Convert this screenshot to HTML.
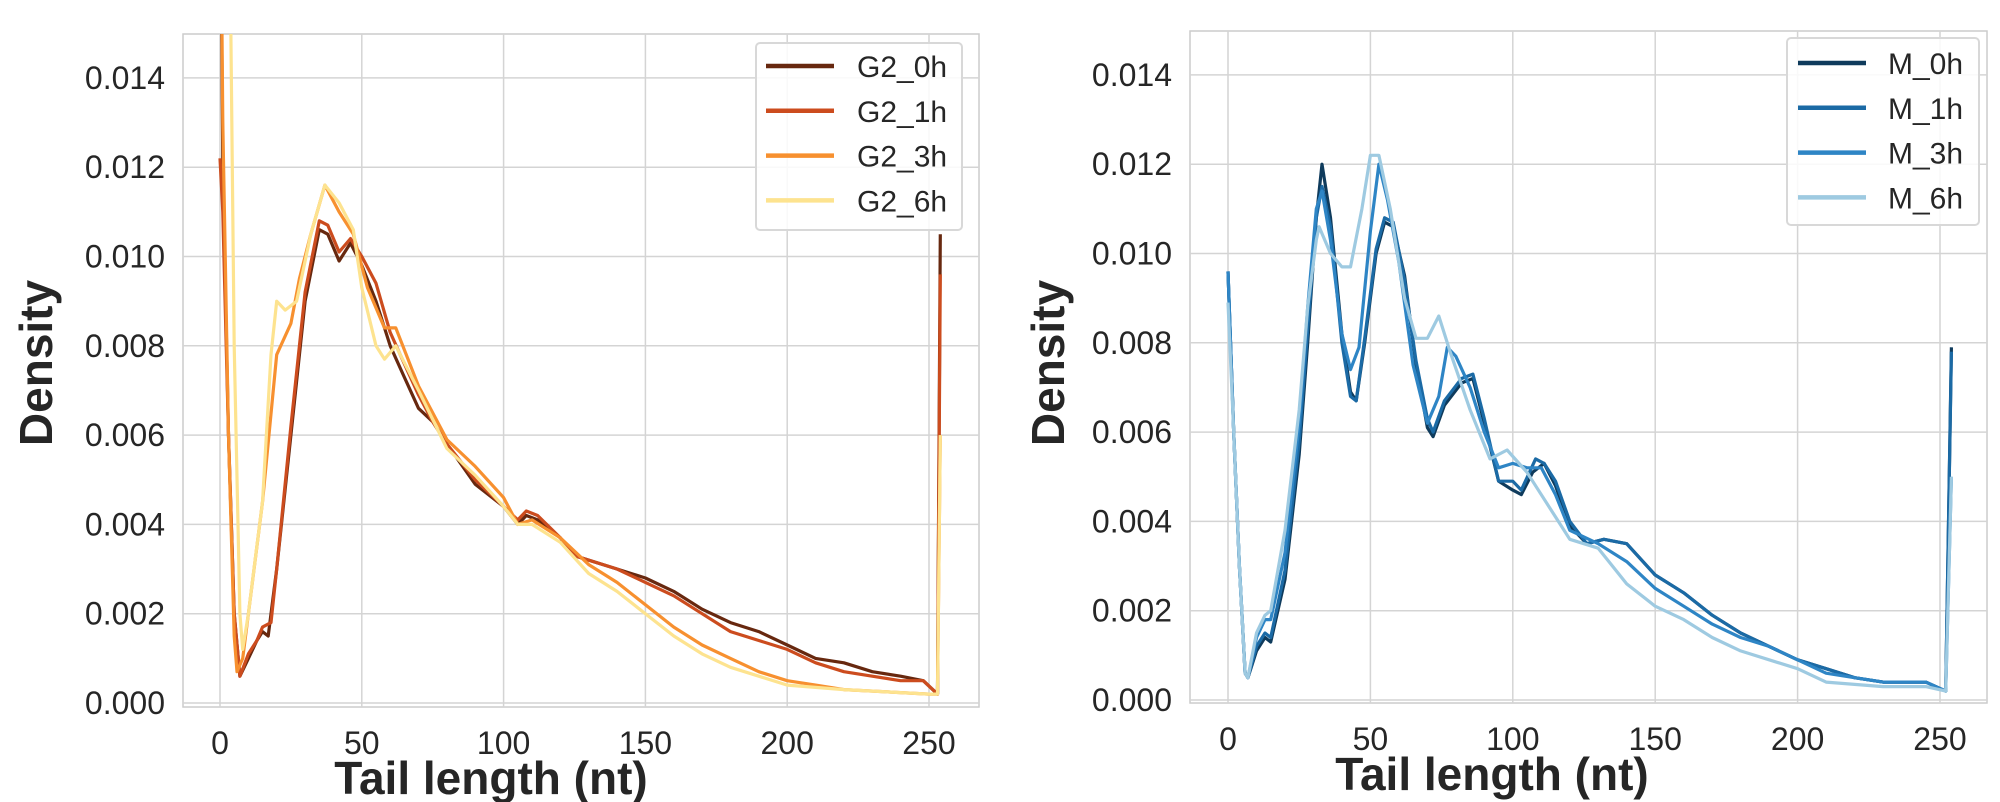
<!DOCTYPE html>
<html><head><meta charset="utf-8"><style>
html,body{margin:0;padding:0;background:#fff;width:2000px;height:802px;overflow:hidden}
svg text{font-family:"Liberation Sans",Arial,sans-serif;fill:#262626}
</style></head><body>
<svg id="s" width="2000" height="802" xmlns="http://www.w3.org/2000/svg">
<defs>
<clipPath id="c1"><rect x="183" y="34" width="796" height="673"/></clipPath>
<clipPath id="c2"><rect x="1190" y="31" width="797" height="672"/></clipPath>
</defs>
</svg>
<script>
const S=document.getElementById('s');
const NS='http://www.w3.org/2000/svg';
function el(t,a,txt){const e=document.createElementNS(NS,t);for(const k in a)e.setAttribute(k,a[k]);if(txt!==undefined)e.textContent=txt;S.appendChild(e);return e;}
function panel(P){
  const X=v=>P.x0+v*P.sx, Y=v=>P.y0-v/0.002*89.3;
  el('rect',{x:P.l,y:P.t,width:P.r-P.l,height:P.b-P.t,fill:'#fff',stroke:'#cccccc','stroke-width':1.5});
  for(let i=0;i<=250;i+=50){el('line',{x1:X(i),x2:X(i),y1:P.t,y2:P.b,stroke:'#d4d4d4','stroke-width':1.5});
    el('text',{x:X(i),y:P.b+47,'font-size':32,'text-anchor':'middle'},String(i));}
  for(let i=0;i<=7;i++){const v=i*0.002;el('line',{x1:P.l,x2:P.r,y1:Y(v),y2:Y(v),stroke:'#d4d4d4','stroke-width':1.5});
    el('text',{x:P.l-18,y:Y(v)+11,'font-size':32,'text-anchor':'end'},v.toFixed(3));}
  el('text',{x:P.dx,y:P.dy,'font-size':46,'font-weight':'bold','text-anchor':'middle',transform:`rotate(-90 ${P.dx} ${P.dy})`},'Density');
  el('text',{x:P.tx,y:P.ty,'font-size':46,'font-weight':'bold','text-anchor':'middle'},'Tail length (nt)');
  const g=document.createElementNS(NS,'g');g.setAttribute('clip-path',P.clip);S.appendChild(g);
  P.series.forEach(s=>{const p=document.createElementNS(NS,'polyline');
    const pts=[];for(let i=0;i<s.d.length;i+=2)pts.push(X(s.d[i]).toFixed(1)+','+Y(s.d[i+1]).toFixed(1));
    p.setAttribute('points',pts.join(' '));p.setAttribute('fill','none');p.setAttribute('stroke',s.c);p.setAttribute('stroke-width',3.2);p.setAttribute('stroke-linejoin','round');g.appendChild(p);});
  const L=P.leg;el('rect',{x:L.x,y:L.y,width:L.w,height:L.h,fill:'#fff','fill-opacity':0.85,stroke:'#d8d8d8','stroke-width':2,rx:4});
  P.series.forEach((s,i)=>{const y=L.ly+i*44.8;el('line',{x1:L.lx,x2:L.lx+68,y1:y,y2:y,stroke:s.c,'stroke-width':4.5});
    el('text',{x:L.tx,y:y+11,'font-size':30},s.n);});
}
panel({l:183,r:979,t:34,b:707,x0:220,sx:2.836,y0:703,dx:52,dy:363,tx:491,ty:794,clip:'url(#c1)',
 leg:{x:756,y:43,w:206,h:187,lx:766,ly:66,tx:857},
 series:[
 {n:'G2_0h',c:'#67280f',d:[0,0.02,1,0.012,3,0.006,5,0.002,7,0.0006,10,0.001,13,0.0014,15,0.0016,17,0.0015,20,0.003,25,0.006,30,0.009,35,0.0106,38,0.0105,42,0.0099,46,0.0103,50,0.0098,55,0.009,60,0.008,65,0.0073,70,0.0066,75,0.0063,80,0.0058,90,0.0049,100,0.0044,105,0.004,108,0.0042,112,0.0041,120,0.0037,125,0.0033,140,0.003,150,0.0028,160,0.0025,170,0.0021,180,0.0018,190,0.0016,200,0.0013,210,0.001,220,0.0009,230,0.0007,240,0.0006,248,0.0005,253,0.0002,254,0.0105]},
 {n:'G2_1h',c:'#cc4c1e',d:[0,0.0122,1,0.011,3,0.006,5,0.002,7,0.0006,10,0.0011,13,0.0014,15,0.0017,18,0.0018,20,0.003,25,0.0062,30,0.0092,35,0.0108,38,0.0107,42,0.0101,46,0.0104,50,0.01,55,0.0094,60,0.0083,65,0.0076,70,0.0069,75,0.0063,80,0.0058,90,0.005,100,0.0044,105,0.0041,108,0.0043,112,0.0042,120,0.0037,125,0.0033,140,0.003,150,0.0027,160,0.0024,170,0.002,180,0.0016,190,0.0014,200,0.0012,210,0.0009,220,0.0007,230,0.0006,240,0.0005,248,0.0005,253,0.0002,254,0.0096]},
 {n:'G2_3h',c:'#f7902f',d:[0,0.02,1,0.013,3,0.006,5,0.0015,6,0.0007,8,0.001,10,0.002,15,0.0045,20,0.0078,25,0.0085,28,0.0095,32,0.0105,37,0.0116,42,0.011,47,0.0105,52,0.0093,58,0.0084,62,0.0084,70,0.0071,80,0.0059,90,0.0053,100,0.0046,105,0.004,110,0.0041,120,0.0037,130,0.0031,140,0.0027,150,0.0022,160,0.0017,170,0.0013,180,0.001,190,0.0007,200,0.0005,210,0.0004,220,0.0003,250,0.0002,253,0.0002,254,0.006]},
 {n:'G2_6h',c:'#fde38f',d:[3,0.02,5,0.008,7,0.002,8,0.0012,10,0.002,12,0.003,15,0.0045,18,0.0078,20,0.009,23,0.0088,27,0.009,32,0.0105,37,0.0116,42,0.0112,47,0.0106,50,0.0093,55,0.008,58,0.0077,62,0.008,70,0.007,80,0.0057,90,0.0051,100,0.0044,105,0.004,110,0.004,120,0.0036,130,0.0029,140,0.0025,150,0.002,160,0.0015,170,0.0011,180,0.0008,190,0.0006,200,0.0004,220,0.0003,250,0.0002,253,0.0002,254,0.006]}
 ]});
panel({l:1190,r:1987,t:31,b:703,x0:1228,sx:2.848,y0:700,dx:1064,dy:363,tx:1492,ty:790,clip:'url(#c2)',
 leg:{x:1787,y:38,w:192,h:187,lx:1798,ly:63,tx:1888},
 series:[
 {n:'M_0h',c:'#0f3b5c',d:[0,0.0096,2,0.006,4,0.003,6,0.0006,7,0.0005,10,0.0011,13,0.0014,15,0.0013,20,0.0027,25,0.0055,28,0.008,31,0.0108,33,0.012,36,0.0108,40,0.0082,43,0.0069,45,0.0067,48,0.008,52,0.01,55,0.0107,58,0.0106,62,0.0095,66,0.0075,70,0.0061,72,0.0059,76,0.0066,82,0.0071,86,0.0072,90,0.0062,95,0.0049,100,0.0047,103,0.0046,107,0.0051,111,0.0053,115,0.0048,120,0.0039,126,0.0035,132,0.0036,140,0.0035,150,0.0028,160,0.0024,170,0.0019,180,0.0015,190,0.0012,200,0.0009,210,0.0007,220,0.0005,230,0.0004,245,0.0004,252,0.0002,254,0.0079]},
 {n:'M_1h',c:'#1b6aa5',d:[0,0.0096,2,0.006,4,0.003,6,0.0006,7,0.0005,10,0.0012,13,0.0015,15,0.0014,20,0.0029,25,0.0058,28,0.0083,31,0.0108,33,0.0115,36,0.0106,40,0.008,43,0.0068,45,0.0067,48,0.0081,52,0.0101,55,0.0108,58,0.0107,62,0.0094,66,0.0076,70,0.0063,72,0.006,76,0.0067,82,0.0072,86,0.0073,90,0.0063,95,0.0049,100,0.0049,103,0.0047,108,0.0054,111,0.0053,115,0.0049,120,0.004,126,0.0035,132,0.0036,140,0.0035,150,0.0028,160,0.0024,170,0.0019,180,0.0015,190,0.0012,200,0.0009,210,0.0007,220,0.0005,230,0.0004,245,0.0004,252,0.0002,254,0.0078]},
 {n:'M_3h',c:'#2e85c5',d:[0,0.0096,2,0.006,4,0.003,6,0.0006,7,0.0005,10,0.0014,13,0.0018,15,0.0018,20,0.0033,25,0.0062,28,0.0088,31,0.011,33,0.0114,36,0.0103,40,0.0082,43,0.0074,46,0.0079,50,0.0105,53,0.012,56,0.0112,60,0.0098,65,0.0075,70,0.0062,74,0.0068,77,0.0079,80,0.0077,85,0.007,90,0.006,95,0.0052,100,0.0053,105,0.0052,110,0.0052,115,0.0046,120,0.0038,130,0.0035,140,0.0031,150,0.0025,160,0.0021,170,0.0017,180,0.0014,190,0.0012,200,0.0009,210,0.0006,220,0.0005,230,0.0004,245,0.0004,252,0.0002,254,0.005]},
 {n:'M_6h',c:'#9ecae1',d:[0,0.0089,2,0.006,4,0.003,6,0.0006,7,0.0005,10,0.0015,13,0.0019,15,0.002,20,0.0038,25,0.0065,28,0.0088,31,0.0103,32,0.0106,36,0.01,40,0.0097,43,0.0097,47,0.011,50,0.0122,53,0.0122,57,0.011,62,0.009,66,0.0081,70,0.0081,74,0.0086,78,0.0078,85,0.0065,92,0.0054,98,0.0056,105,0.0051,115,0.0041,120,0.0036,130,0.0034,140,0.0026,150,0.0021,160,0.0018,170,0.0014,180,0.0011,190,0.0009,200,0.0007,210,0.0004,230,0.0003,245,0.0003,252,0.0002,254,0.005]}
 ]});
</script>
</body></html>
